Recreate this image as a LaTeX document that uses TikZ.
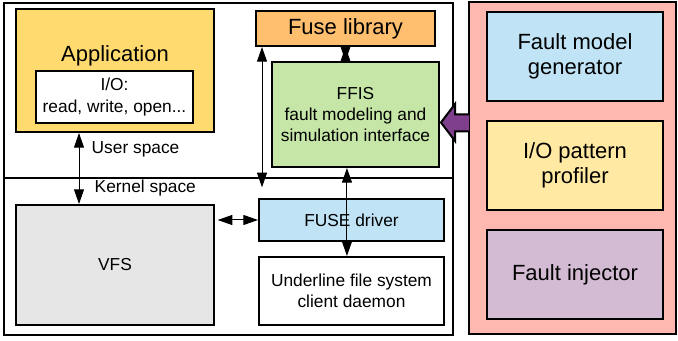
\documentclass[tikz,border=0pt]{standalone}
\usepackage{fontspec}
\setmainfont{Liberation Sans}
\usetikzlibrary{arrows.meta}
\definecolor{appyellow}{HTML}{FFDA6E}
\definecolor{liborange}{HTML}{FFBF6E}
\definecolor{ffisgreen}{HTML}{C5E6A6}
\definecolor{vfsgray}{HTML}{E6E6E6}
\definecolor{drvblue}{HTML}{C0E3F5}
\definecolor{panelred}{HTML}{FFB8B0}
\definecolor{profyellow}{HTML}{FFE9A3}
\definecolor{injpurple}{HTML}{D3BCD3}
\definecolor{arrpurple}{HTML}{7F3F8C}
\newcommand{\bigtxt}{\fontsize{16.5}{19}\selectfont}
\newcommand{\smalltxt}{\fontsize{13}{16}\selectfont}

\begin{document}
\begin{tikzpicture}[x=0.75pt, y=-0.75pt,
    box/.style={draw, line width=1.5pt, inner sep=0pt, align=center},
    dbl/.style={{Triangle[length=11pt,width=7.5pt]}-{Triangle[length=11pt,width=7.5pt]}, line width=0.75pt},
    sgl/.style={-{Triangle[length=11pt,width=7.5pt]}, line width=0.75pt}]
         \useasboundingbox (0,0) rectangle (678,341);
         % user / kernel frame
         \draw [line width=1.5pt] (4,3) rectangle (453,335);
         \draw [line width=1.5pt] (4,178) -- (453,178);
         \node [box, fill=appyellow, minimum width=148.5pt, minimum height=92.25pt] (App) at (115,70.5) {};
         \node [font=\bigtxt] (AppT) at (115,56) {Application};
         \node [box, fill=white, minimum width=117.75pt, minimum height=39pt, font=\smalltxt] (IO) at (114.5,97) {I/O:\\read, write, open...};
         \node [box, fill=liborange, minimum width=134.25pt, minimum height=26.25pt, font=\bigtxt] (Lib) at (345.5,28.5) {Fuse library};
         \node [box, fill=ffisgreen, minimum width=125.25pt, minimum height=78.75pt, font=\smalltxt] (FFIS) at (355.5,114.5) {FFIS\\fault modeling and\\simulation interface};
         \node [box, fill=vfsgray, minimum width=148.5pt, minimum height=90pt, font=\smalltxt] (VFS) at (115,265) {VFS};
         \node [box, fill=drvblue, minimum width=138.75pt, minimum height=31.5pt, font=\smalltxt] (Drv) at (351.5,220) {FUSE driver};
         \node [box, fill=white, minimum width=138.75pt, minimum height=51pt, font=\smalltxt] (Daemon) at (351.5,291) {Underline file system\\client daemon};
         \node [anchor=west, font=\smalltxt] (User) at (87,149) {User space};
         \node [anchor=west, font=\smalltxt] (Kernel) at (90,188) {Kernel space};
         % fault side
         \node [box, fill=panelred, minimum width=155.25pt, minimum height=249pt] (Panel) at (572.5,168.5) {};
         \node [box, fill=drvblue, minimum width=132pt, minimum height=66.75pt, font=\bigtxt] (Gen) at (575,56.5) {Fault model\\generator};
         \node [box, fill=profyellow, minimum width=132pt, minimum height=66.75pt, font=\bigtxt] (Prof) at (575,165.5) {I/O pattern\\profiler};
         \node [box, fill=injpurple, minimum width=132pt, minimum height=66.75pt, font=\bigtxt] (Inj) at (575,274.5) {Fault injector};
         \draw [line width=1.5pt, fill=arrpurple] (469,114.5) -- (455,114.5) -- (455,104) -- (441,122.5) -- (455,141) -- (455,131.5) -- (469,131.5);
         % connectors
         \coordinate (M) at ([xshift=-6.4pt]FFIS.south);
         \draw [dbl] ([xshift=-27pt]App.south) -- ([xshift=-27pt]VFS.north);
         \draw [sgl] (Lib.south |- FFIS.north) -- (Lib.south);
         \draw [sgl] (Lib.south) -- (Lib.south |- FFIS.north);
         \draw [dbl, shorten >=8pt] ([xshift=5.25pt]Lib.south west) -- ([xshift=3pt]Drv.north west);
         \draw [dbl] (M) -- (M |- Daemon.north);
         \draw [dbl, shorten <=2pt] (VFS.east |- Drv.west) -- (Drv.west);
\end{tikzpicture}
\end{document}
